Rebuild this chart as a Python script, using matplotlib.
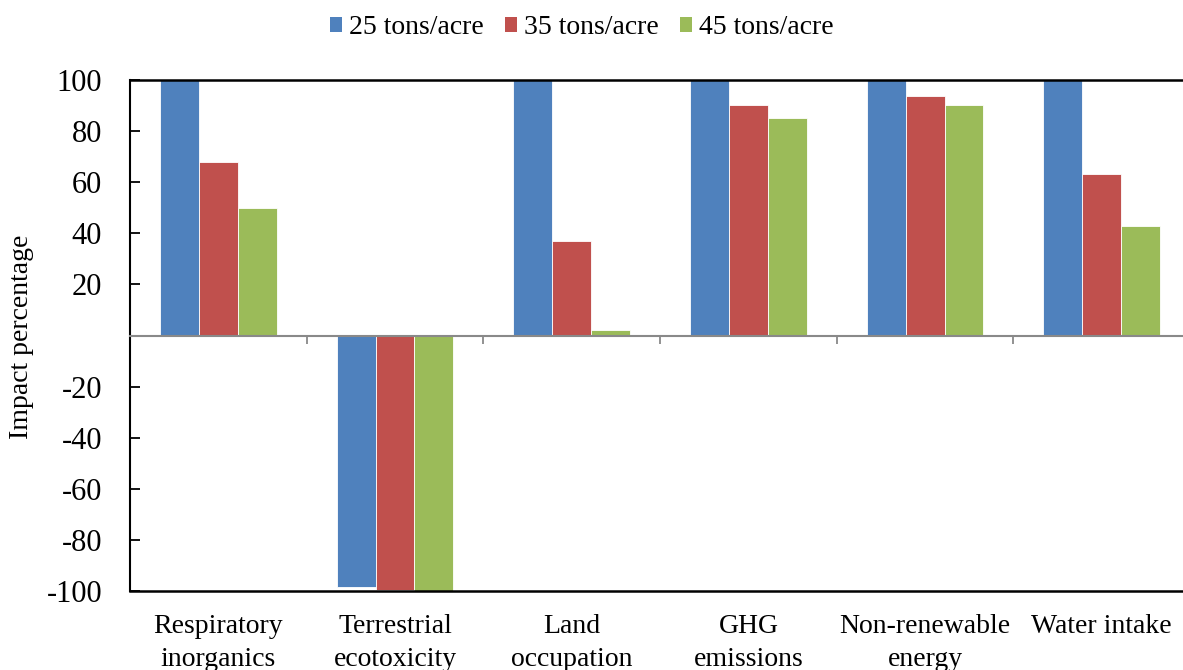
import matplotlib as mpl
mpl.use('Agg')
import matplotlib.pyplot as plt
import matplotlib.ticker as mticker
from matplotlib.patches import Patch
import numpy as np

plt.rcParams['font.family'] = ['Liberation Serif', 'DejaVu Serif']

# impact categories and relative impact (%) per application rate
categories = ['Respiratory\ninorganics', 'Terrestrial\necotoxicity', 'Land\noccupation',
              'GHG\nemissions', 'Non-renewable\nenergy', 'Water intake']
series = ['25 tons/acre', '35 tons/acre', '45 tons/acre']
rate_25 = [100, -98.4, 100, 100, 100, 100]
rate_35 = [67.8, -99.6, 36.9, 90.2, 93.7, 63.1]
rate_45 = [49.8, -100, 2.0, 85.1, 90.2, 42.8]
yticks = [-100, -80, -60, -40, -20, 0, 20, 40, 60, 80, 100]

colors = ['#4F81BD', '#C0504D', '#9BBB59']

fig = plt.figure(figsize=(11.83, 6.70), dpi=100)
ax = fig.add_axes([0.1099, 0.1179, 1.006 - 0.1099, 0.8806 - 0.1179])

x = np.arange(len(categories)) + 0.5
width = 0.22
for i, (vals, lab) in enumerate(zip([rate_25, rate_35, rate_45], series)):
    ax.bar(x + (i - 1) * width, vals, width, color=colors[i], label=lab,
           edgecolor='white', linewidth=0.6)

ax.set_xlim(0, len(categories))
ax.set_ylim(-100, 100)

# y axis: inward ticks, no label at zero
ax.set_yticks(yticks)
ax.yaxis.set_major_formatter(mticker.FuncFormatter(lambda v, p: '' if v == 0 else '%d' % v))
ax.tick_params(axis='y', direction='in', length=7.5, width=1.3, labelsize=22, pad=20)

# gray category axis through zero with boundary ticks
ax.spines['bottom'].set_position(('data', 0))
ax.spines['bottom'].set_color('#898989')
ax.spines['bottom'].set_linewidth(1.5)
ax.set_xticks(np.arange(len(categories) + 1))
ax.tick_params(axis='x', direction='out', length=6, width=1.3, color='#898989',
               labelbottom=False)
ax.spines['left'].set_linewidth(1.5)
ax.spines['top'].set_linewidth(1.8)
ax.spines['right'].set_visible(False)
ax.axhline(-100, color='black', linewidth=1.8, clip_on=False, zorder=3)

for xi, name in zip(x, categories):
    ax.text(xi, -109, name, ha='center', va='top', fontsize=20, linespacing=1.4)

fig.text(22 / 1183, 1 - 337 / 670, 'Impact percentage', rotation=90,
         ha='center', va='center', fontsize=20)

handles = [Patch(facecolor=c, edgecolor='none', label=s) for c, s in zip(colors, series)]
fig.legend(handles=handles, loc='center', bbox_to_anchor=(582 / 1183, 1 - 28 / 670),
           ncol=3, frameon=False, fontsize=20, handlelength=0.45, handleheight=0.45,
           handletextpad=0.25, columnspacing=0.75)

fig.savefig('out.png', dpi=100)
